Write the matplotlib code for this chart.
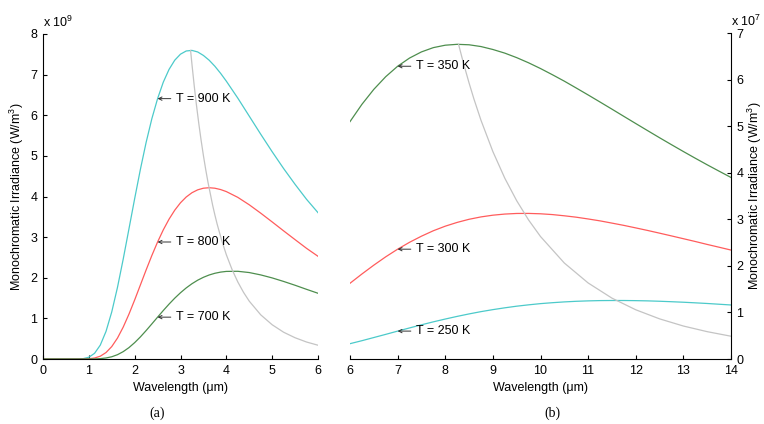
import matplotlib
matplotlib.use("Agg")
import matplotlib.pyplot as plt

plt.rcParams['font.family'] = ['Liberation Sans', 'DejaVu Sans']
plt.rcParams['mathtext.default'] = 'regular'

# ---- panel (a): wavelength 0-6 um, irradiance in 1e9 W/m^3 ----
wl_a = [0, 0.5, 0.75, 0.875, 1.0, 1.125, 1.25, 1.375, 1.5, 1.625, 1.75, 1.875,
        2.0, 2.125, 2.25, 2.375, 2.5, 2.625, 2.75, 2.875, 3.0, 3.125, 3.25, 3.375,
        3.5, 3.625, 3.75, 3.875, 4.0, 4.25, 4.5, 4.75, 5.0, 5.25, 5.5, 5.75, 6.0]
t900 = [0, 0, 0.001, 0.0085, 0.043, 0.140, 0.342, 0.680, 1.159, 1.763, 2.459, 3.201,
        3.948, 4.669, 5.332, 5.915, 6.409, 6.816, 7.128, 7.356, 7.504, 7.582, 7.596, 7.558,
        7.472, 7.355, 7.206, 7.032, 6.839, 6.422, 5.978, 5.534, 5.102, 4.688, 4.299, 3.931, 3.602]
t800 = [0, 0, 0, 0.0009, 0.006, 0.024, 0.069, 0.159, 0.306, 0.515, 0.785, 1.103,
        1.454, 1.823, 2.192, 2.548, 2.880, 3.180, 3.442, 3.664, 3.846, 3.988, 4.093, 4.164,
        4.204, 4.216, 4.204, 4.171, 4.121, 3.979, 3.796, 3.590, 3.374, 3.154, 2.938, 2.724, 2.528]
t700 = [0, 0, 0, 0, 0.0004, 0.0024, 0.009, 0.025, 0.055, 0.106, 0.181, 0.280,
        0.403, 0.544, 0.700, 0.864, 1.030, 1.194, 1.351, 1.498, 1.631, 1.750, 1.853, 1.940,
        2.011, 2.068, 2.110, 2.139, 2.156, 2.159, 2.128, 2.070, 1.996, 1.909, 1.815, 1.715, 1.618]
# locus of the peaks
wien_wl_a = [3.22, 3.25, 3.3, 3.35, 3.4, 3.45, 3.5, 3.55, 3.6, 3.7, 3.75, 3.8, 3.9,
             4.0, 4.125, 4.25, 4.375, 4.5, 4.75, 5.0, 5.25, 5.5, 5.75, 6.0]
wien_a = [7.597, 7.253, 6.720, 6.233, 5.788, 5.381, 5.007, 4.664, 4.349, 3.792, 3.546,
          3.319, 2.915, 2.567, 2.202, 1.897, 1.641, 1.424, 1.088, 0.843, 0.659, 0.523,
          0.418, 0.339]

# ---- panel (b): wavelength 6-14 um, irradiance in 1e7 W/m^3 ----
wl_b = [6, 6.25, 6.5, 6.75, 7, 7.25, 7.5, 7.75, 8, 8.25, 8.5, 8.75, 9, 9.25, 9.5,
        9.75, 10, 10.25, 10.5, 10.75, 11, 11.25, 11.5, 11.75, 12, 12.25, 12.5, 12.75,
        13, 13.25, 13.5, 13.75, 14]
t350 = [5.097, 5.468, 5.790, 6.062, 6.286, 6.462, 6.594, 6.686, 6.738, 6.757, 6.747,
        6.709, 6.646, 6.568, 6.471, 6.360, 6.237, 6.104, 5.966, 5.819, 5.670, 5.518,
        5.365, 5.210, 5.056, 4.903, 4.751, 4.602, 4.455, 4.311, 4.170, 4.033, 3.898]
t300 = [1.626, 1.825, 2.015, 2.194, 2.358, 2.506, 2.637, 2.754, 2.852, 2.933, 3.000,
        3.051, 3.088, 3.112, 3.125, 3.126, 3.118, 3.101, 3.075, 3.045, 3.007, 2.966,
        2.918, 2.869, 2.815, 2.760, 2.702, 2.643, 2.583, 2.523, 2.460, 2.400, 2.339]
t250 = [0.329, 0.393, 0.461, 0.529, 0.599, 0.667, 0.734, 0.798, 0.858, 0.915, 0.968,
        1.017, 1.060, 1.099, 1.134, 1.163, 1.189, 1.209, 1.226, 1.239, 1.248, 1.254,
        1.256, 1.256, 1.253, 1.248, 1.240, 1.230, 1.219, 1.206, 1.192, 1.176, 1.160]
wien_wl_b = [8.28, 8.3, 8.35, 8.4, 8.5, 8.6, 8.75, 9, 9.25, 9.5, 9.75, 10, 10.5, 11,
             11.5, 12, 12.5, 13, 13.5, 14]
wien_b = [6.757, 6.676, 6.479, 6.288, 5.927, 5.590, 5.127, 4.454, 3.883, 3.399, 2.985,
          2.630, 2.061, 1.633, 1.307, 1.057, 0.862, 0.708, 0.587, 0.489]

labels_a = ['T = 900 K', 'T = 800 K', 'T = 700 K']
labels_b = ['T = 350 K', 'T = 300 K', 'T = 250 K']

cyan = '#4ccaca'
red = '#ff5c5c'
green = '#4e8e4e'
gray = '#c4c4c4'
lw = 0.9
fs = 9
ylab = 'Monochromatic Irradiance (W/m$^{3}$)'


def tag(ax, x, y, txt):
    # label to the right, small arrow pointing back at the curve
    ax.annotate(txt, xy=(x, y), xytext=(13, 0), textcoords='offset points',
                fontsize=fs, ha='left', va='center',
                arrowprops=dict(arrowstyle='->', lw=0.7, color='#333333',
                                shrinkA=1.5, shrinkB=0, mutation_scale=6))


fig = plt.figure(figsize=(7.64, 4.24), dpi=100)
ax1 = fig.add_axes([43/764, 65/424, 275/764, 325/424])
ax2 = fig.add_axes([350/764, 65/424, 381/764, 326/424])

ax1.plot(wl_a, t900, color=cyan, lw=lw)
ax1.plot(wl_a, t800, color=red, lw=lw)
ax1.plot(wl_a, t700, color=green, lw=lw)
ax1.plot(wien_wl_a, wien_a, color=gray, lw=lw)

ax2.plot(wl_b, t350, color=green, lw=lw)
ax2.plot(wl_b, t300, color=red, lw=lw)
ax2.plot(wl_b, t250, color=cyan, lw=lw)
ax2.plot(wien_wl_b, wien_b, color=gray, lw=lw)

idx_a = wl_a.index(2.5)
for lab, ser in zip(labels_a, [t900, t800, t700]):
    tag(ax1, 2.5, ser[idx_a], lab)
idx_b = wl_b.index(7)
for lab, ser in zip(labels_b, [t350, t300, t250]):
    tag(ax2, 7, ser[idx_b], lab)

ax1.set_xlim(0, 6)
ax1.set_ylim(0, 8)
ax1.set_xticks(range(0, 7))
ax1.set_yticks(range(0, 9))
ax1.spines['top'].set_visible(False)
ax1.spines['right'].set_visible(False)
ax1.tick_params(direction='in', length=3, labelsize=fs, pad=4)
ax1.set_xlabel('Wavelength (\u03bcm)', fontsize=fs, labelpad=4)
ax1.set_ylabel(ylab, fontsize=fs, va='center')
ax1.yaxis.set_label_coords(-0.094, 0.5)
ax1.text(0, 1.012, 'x 10$^{9}$', transform=ax1.transAxes, fontsize=fs,
         ha='left', va='bottom')

ax2.set_xlim(6, 14)
ax2.set_ylim(0, 7)
ax2.set_xticks(range(6, 15))
ax2.set_yticks(range(0, 8))
ax2.spines['top'].set_visible(False)
ax2.spines['left'].set_visible(False)
ax2.yaxis.tick_right()
ax2.yaxis.set_label_position('right')
ax2.tick_params(direction='in', length=3, labelsize=fs, pad=4)
ax2.set_xlabel('Wavelength (\u03bcm)', fontsize=fs, labelpad=4)
ax2.set_ylabel(ylab, fontsize=fs, rotation=90, va='center')
ax2.yaxis.set_label_coords(1.062, 0.5)
ax2.text(1.0, 1.012, 'x 10$^{7}$', transform=ax2.transAxes, fontsize=fs,
         ha='left', va='bottom')

fig.text(157/764, 1 - 413/424, '(a)', family='Liberation Serif', fontsize=10,
         ha='center', va='center')
fig.text(552/764, 1 - 413/424, '(b)', family='Liberation Serif', fontsize=10,
         ha='center', va='center')

fig.savefig('out.png', dpi=100)
